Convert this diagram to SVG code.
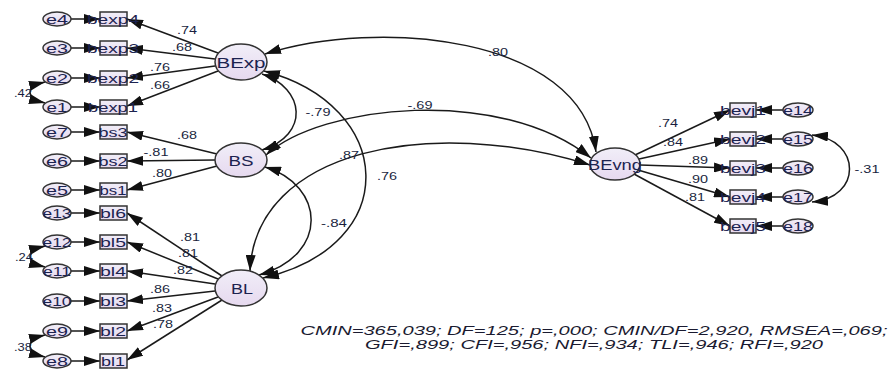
<svg xmlns="http://www.w3.org/2000/svg" width="891" height="369" viewBox="0 0 891 369">
<defs>
<linearGradient id="g" x1="0" y1="0" x2="0" y2="1">
<stop offset="0" stop-color="#f1eef8"/>
<stop offset="1" stop-color="#e6d9ef"/>
</linearGradient>
<marker id="ah" viewBox="0 0 16 10" refX="16" refY="5" markerWidth="16" markerHeight="10" markerUnits="userSpaceOnUse" orient="auto-start-reverse">
<path d="M0,0 L16,5 L0,10 z" fill="#111"/>
</marker>
<style>
.sh{fill:url(#g);stroke:#333;stroke-width:1.5}
.c path,.c line{stroke:#1a1a1a;stroke-width:1.5;fill:none}
.a{marker-end:url(#ah)}
.b{marker-start:url(#ah);marker-end:url(#ah)}
text{font-family:"Liberation Sans",Arial,sans-serif;fill:#1c2350;text-anchor:middle}
.n{font-size:11px;fill:#1a1f40}
.s{font-size:13px}
.L{font-size:15px}
.fit{font-size:13px;font-style:italic;fill:#1a1a30}
</style>
</defs>
<rect width="891" height="369" fill="#fff"/>
<g id="connectors" class="c">
<line class="a" x1="71" y1="19" x2="100" y2="19"/>
<line class="a" x1="71" y1="48" x2="100" y2="48"/>
<line class="a" x1="71" y1="78" x2="100" y2="78"/>
<line class="a" x1="71" y1="107" x2="100" y2="107"/>
<line class="a" x1="71" y1="132" x2="100" y2="132"/>
<line class="a" x1="71" y1="161" x2="100" y2="161"/>
<line class="a" x1="71" y1="190" x2="100" y2="190"/>
<line class="a" x1="71" y1="213" x2="100" y2="213"/>
<line class="a" x1="71" y1="242" x2="100" y2="242"/>
<line class="a" x1="71" y1="271" x2="100" y2="271"/>
<line class="a" x1="71" y1="301" x2="100" y2="301"/>
<line class="a" x1="71" y1="331" x2="100" y2="331"/>
<line class="a" x1="71" y1="361" x2="100" y2="361"/>
<line class="a" x1="218" y1="53" x2="127" y2="19"/>
<line class="a" x1="215" y1="59" x2="127" y2="48"/>
<line class="a" x1="215" y1="66" x2="127" y2="78"/>
<line class="a" x1="218" y1="71" x2="127" y2="106"/>
<line class="a" x1="217" y1="154" x2="127" y2="132"/>
<line class="a" x1="215" y1="160" x2="127" y2="161"/>
<line class="a" x1="217" y1="166" x2="127" y2="190"/>
<line class="a" x1="222" y1="276" x2="127" y2="213"/>
<line class="a" x1="218" y1="279" x2="127" y2="242"/>
<line class="a" x1="215" y1="284" x2="127" y2="271"/>
<line class="a" x1="215" y1="291" x2="127" y2="301"/>
<line class="a" x1="218" y1="297" x2="127" y2="331"/>
<line class="a" x1="222" y1="300" x2="127" y2="360"/>
<line class="a" x1="635" y1="155" x2="730" y2="110"/>
<line class="a" x1="639" y1="159" x2="730" y2="139"/>
<line class="a" x1="640" y1="165" x2="730" y2="168"/>
<line class="a" x1="638" y1="170" x2="730" y2="197"/>
<line class="a" x1="634" y1="174" x2="730" y2="226"/>
<line class="a" x1="784" y1="110" x2="756" y2="110"/>
<line class="a" x1="784" y1="139" x2="756" y2="139"/>
<line class="a" x1="784" y1="168" x2="756" y2="168"/>
<line class="a" x1="784" y1="197" x2="756" y2="197"/>
<line class="a" x1="784" y1="226" x2="756" y2="226"/>
<path class="b" d="M45,82 C25,87 25,98 45,103"/>
<path class="b" d="M45,246 C25,251 25,262 45,267"/>
<path class="b" d="M45,335 C25,340 25,352 45,357"/>
<path class="b" d="M812,135 C862,140 862,198 812,202"/>
<path class="b" d="M265,54 C377,18 580,35 596,152"/>
<path class="b" d="M266,155 C320,105 500,85 591,158"/>
<path class="b" d="M250,271 C255,150 430,115 590,165"/>
<path class="b" d="M262,74 C305,88 310,135 262,150"/>
<path class="b" d="M264,71 C395,105 405,245 263,278"/>
<path class="b" d="M265,167 C325,185 330,255 259,275"/>
</g>
<g id="labels">
<text class="n" x="187" y="34" textLength="20" lengthAdjust="spacingAndGlyphs">.74</text>
<text class="n" x="182" y="51" textLength="20" lengthAdjust="spacingAndGlyphs">.68</text>
<text class="n" x="160" y="71" textLength="20" lengthAdjust="spacingAndGlyphs">.76</text>
<text class="n" x="160" y="89" textLength="20" lengthAdjust="spacingAndGlyphs">.66</text>
<text class="n" x="23" y="97" textLength="18" lengthAdjust="spacingAndGlyphs">.42</text>
<text class="n" x="187" y="139" textLength="20" lengthAdjust="spacingAndGlyphs">.68</text>
<text class="n" x="156" y="156" textLength="25" lengthAdjust="spacingAndGlyphs">-.81</text>
<text class="n" x="162" y="177" textLength="20" lengthAdjust="spacingAndGlyphs">.80</text>
<text class="n" x="190" y="241" textLength="20" lengthAdjust="spacingAndGlyphs">.81</text>
<text class="n" x="188" y="257" textLength="20" lengthAdjust="spacingAndGlyphs">.81</text>
<text class="n" x="183" y="274" textLength="20" lengthAdjust="spacingAndGlyphs">.82</text>
<text class="n" x="160" y="293" textLength="20" lengthAdjust="spacingAndGlyphs">.86</text>
<text class="n" x="162" y="312" textLength="20" lengthAdjust="spacingAndGlyphs">.83</text>
<text class="n" x="163" y="328" textLength="20" lengthAdjust="spacingAndGlyphs">.78</text>
<text class="n" x="24" y="261" textLength="18" lengthAdjust="spacingAndGlyphs">.24</text>
<text class="n" x="23" y="351" textLength="18" lengthAdjust="spacingAndGlyphs">.38</text>
<text class="n" x="498" y="56" textLength="20" lengthAdjust="spacingAndGlyphs">.80</text>
<text class="n" x="420" y="109" textLength="25" lengthAdjust="spacingAndGlyphs">-.69</text>
<text class="n" x="318" y="116" textLength="25" lengthAdjust="spacingAndGlyphs">-.79</text>
<text class="n" x="349" y="159" textLength="20" lengthAdjust="spacingAndGlyphs">.87</text>
<text class="n" x="387" y="180" textLength="20" lengthAdjust="spacingAndGlyphs">.76</text>
<text class="n" x="334" y="227" textLength="26" lengthAdjust="spacingAndGlyphs">-.84</text>
<text class="n" x="668" y="127" textLength="20" lengthAdjust="spacingAndGlyphs">.74</text>
<text class="n" x="673" y="146" textLength="20" lengthAdjust="spacingAndGlyphs">.84</text>
<text class="n" x="698" y="164" textLength="20" lengthAdjust="spacingAndGlyphs">.89</text>
<text class="n" x="698" y="183" textLength="20" lengthAdjust="spacingAndGlyphs">.90</text>
<text class="n" x="695" y="201" textLength="20" lengthAdjust="spacingAndGlyphs">.81</text>
<text class="n" x="867" y="173" textLength="25" lengthAdjust="spacingAndGlyphs">-.31</text>
</g>
<g id="BExp"><ellipse class="sh" cx="241" cy="62" rx="26" ry="18"/><text class="L" x="241" y="67.5" textLength="49" lengthAdjust="spacingAndGlyphs">BExp</text></g>
<g id="BS"><ellipse class="sh" cx="241" cy="160" rx="26" ry="17"/><text class="L" x="241" y="165.5" textLength="25" lengthAdjust="spacingAndGlyphs">BS</text></g>
<g id="BL"><ellipse class="sh" cx="241" cy="288" rx="26" ry="18"/><text class="L" x="242" y="293.5" textLength="22" lengthAdjust="spacingAndGlyphs">BL</text></g>
<g id="BEvng"><ellipse class="sh" cx="615" cy="164" rx="25" ry="16"/><text class="L" x="615" y="169.5" textLength="54" lengthAdjust="spacingAndGlyphs">BEvng</text></g>
<g id="bexp4"><rect class="sh" x="100" y="12" width="27" height="14"/><text class="s" x="113" y="23.5" textLength="52" lengthAdjust="spacingAndGlyphs">bexp4</text></g>
<g id="bexp3"><rect class="sh" x="100" y="41" width="27" height="14"/><text class="s" x="113" y="52.5" textLength="52" lengthAdjust="spacingAndGlyphs">bexp3</text></g>
<g id="bexp2"><rect class="sh" x="100" y="71" width="27" height="14"/><text class="s" x="113" y="82.5" textLength="52" lengthAdjust="spacingAndGlyphs">bexp2</text></g>
<g id="bexp1"><rect class="sh" x="100" y="100" width="27" height="14"/><text class="s" x="113" y="111.5" textLength="50" lengthAdjust="spacingAndGlyphs">bexp1</text></g>
<g id="bs3"><rect class="sh" x="100" y="125" width="27" height="14"/><text class="s" x="113" y="136.5" textLength="29" lengthAdjust="spacingAndGlyphs">bs3</text></g>
<g id="bs2"><rect class="sh" x="100" y="154" width="27" height="14"/><text class="s" x="113" y="165.5" textLength="29" lengthAdjust="spacingAndGlyphs">bs2</text></g>
<g id="bs1"><rect class="sh" x="100" y="183" width="27" height="14"/><text class="s" x="113" y="194.5" textLength="27" lengthAdjust="spacingAndGlyphs">bs1</text></g>
<g id="bl6"><rect class="sh" x="100" y="206" width="27" height="14"/><text class="s" x="113" y="217.5" textLength="26" lengthAdjust="spacingAndGlyphs">bl6</text></g>
<g id="bl5"><rect class="sh" x="100" y="235" width="27" height="14"/><text class="s" x="113" y="246.5" textLength="26" lengthAdjust="spacingAndGlyphs">bl5</text></g>
<g id="bl4"><rect class="sh" x="100" y="264" width="27" height="14"/><text class="s" x="113" y="275.5" textLength="26" lengthAdjust="spacingAndGlyphs">bl4</text></g>
<g id="bl3"><rect class="sh" x="100" y="294" width="27" height="14"/><text class="s" x="113" y="305.5" textLength="26" lengthAdjust="spacingAndGlyphs">bl3</text></g>
<g id="bl2"><rect class="sh" x="100" y="324" width="27" height="14"/><text class="s" x="113" y="335.5" textLength="26" lengthAdjust="spacingAndGlyphs">bl2</text></g>
<g id="bl1"><rect class="sh" x="100" y="354" width="27" height="14"/><text class="s" x="113" y="365.5" textLength="24" lengthAdjust="spacingAndGlyphs">bl1</text></g>
<g id="e4"><ellipse class="sh" cx="57" cy="19" rx="14" ry="7"/><text class="s" x="57" y="23.5" textLength="22" lengthAdjust="spacingAndGlyphs">e4</text></g>
<g id="e3"><ellipse class="sh" cx="57" cy="48" rx="14" ry="7"/><text class="s" x="57" y="52.5" textLength="22" lengthAdjust="spacingAndGlyphs">e3</text></g>
<g id="e2"><ellipse class="sh" cx="57" cy="78" rx="14" ry="7"/><text class="s" x="57" y="82.5" textLength="22" lengthAdjust="spacingAndGlyphs">e2</text></g>
<g id="e1"><ellipse class="sh" cx="57" cy="107" rx="14" ry="7"/><text class="s" x="57" y="111.5" textLength="21" lengthAdjust="spacingAndGlyphs">e1</text></g>
<g id="e7"><ellipse class="sh" cx="57" cy="132" rx="14" ry="7"/><text class="s" x="57" y="136.5" textLength="22" lengthAdjust="spacingAndGlyphs">e7</text></g>
<g id="e6"><ellipse class="sh" cx="57" cy="161" rx="14" ry="7"/><text class="s" x="57" y="165.5" textLength="22" lengthAdjust="spacingAndGlyphs">e6</text></g>
<g id="e5"><ellipse class="sh" cx="57" cy="190" rx="14" ry="7"/><text class="s" x="57" y="194.5" textLength="22" lengthAdjust="spacingAndGlyphs">e5</text></g>
<g id="e13"><ellipse class="sh" cx="57" cy="213" rx="14" ry="7"/><text class="s" x="57" y="217.5" textLength="29" lengthAdjust="spacingAndGlyphs">e13</text></g>
<g id="e12"><ellipse class="sh" cx="57" cy="242" rx="14" ry="7"/><text class="s" x="57" y="246.5" textLength="29" lengthAdjust="spacingAndGlyphs">e12</text></g>
<g id="e11"><ellipse class="sh" cx="57" cy="271" rx="14" ry="7"/><text class="s" x="57" y="275.5" textLength="28" lengthAdjust="spacingAndGlyphs">e11</text></g>
<g id="e10"><ellipse class="sh" cx="57" cy="301" rx="14" ry="7"/><text class="s" x="57" y="305.5" textLength="29" lengthAdjust="spacingAndGlyphs">e10</text></g>
<g id="e9"><ellipse class="sh" cx="57" cy="331" rx="14" ry="7"/><text class="s" x="57" y="335.5" textLength="22" lengthAdjust="spacingAndGlyphs">e9</text></g>
<g id="e8"><ellipse class="sh" cx="57" cy="361" rx="14" ry="7"/><text class="s" x="57" y="365.5" textLength="22" lengthAdjust="spacingAndGlyphs">e8</text></g>
<g id="bevj1"><rect class="sh" x="730" y="103" width="26" height="14"/><text class="s" x="743" y="114.5" textLength="46" lengthAdjust="spacingAndGlyphs">bevj1</text></g>
<g id="bevj2"><rect class="sh" x="730" y="132" width="26" height="14"/><text class="s" x="743" y="143.5" textLength="46" lengthAdjust="spacingAndGlyphs">bevj2</text></g>
<g id="bevj3"><rect class="sh" x="730" y="161" width="26" height="14"/><text class="s" x="743" y="172.5" textLength="46" lengthAdjust="spacingAndGlyphs">bevj3</text></g>
<g id="bevj4"><rect class="sh" x="730" y="190" width="26" height="14"/><text class="s" x="743" y="201.5" textLength="46" lengthAdjust="spacingAndGlyphs">bevj4</text></g>
<g id="bevj5"><rect class="sh" x="730" y="219" width="26" height="14"/><text class="s" x="743" y="230.5" textLength="46" lengthAdjust="spacingAndGlyphs">bevj5</text></g>
<g id="e14"><ellipse class="sh" cx="798" cy="110" rx="15" ry="7"/><text class="s" x="798" y="114.5" textLength="30" lengthAdjust="spacingAndGlyphs">e14</text></g>
<g id="e15"><ellipse class="sh" cx="798" cy="139" rx="15" ry="7"/><text class="s" x="798" y="143.5" textLength="30" lengthAdjust="spacingAndGlyphs">e15</text></g>
<g id="e16"><ellipse class="sh" cx="798" cy="168" rx="15" ry="7"/><text class="s" x="798" y="172.5" textLength="30" lengthAdjust="spacingAndGlyphs">e16</text></g>
<g id="e17"><ellipse class="sh" cx="798" cy="197" rx="15" ry="7"/><text class="s" x="798" y="201.5" textLength="30" lengthAdjust="spacingAndGlyphs">e17</text></g>
<g id="e18"><ellipse class="sh" cx="798" cy="226" rx="15" ry="7"/><text class="s" x="798" y="230.5" textLength="30" lengthAdjust="spacingAndGlyphs">e18</text></g>
<g id="fit">
<text class="fit" x="594" y="335" textLength="587" lengthAdjust="spacingAndGlyphs">CMIN=365,039; DF=125; p=,000; CMIN/DF=2,920, RMSEA=,069;</text>
<text class="fit" x="594" y="349" textLength="458" lengthAdjust="spacingAndGlyphs">GFI=,899; CFI=,956; NFI=,934; TLI=,946; RFI=,920</text>
</g>
</svg>
